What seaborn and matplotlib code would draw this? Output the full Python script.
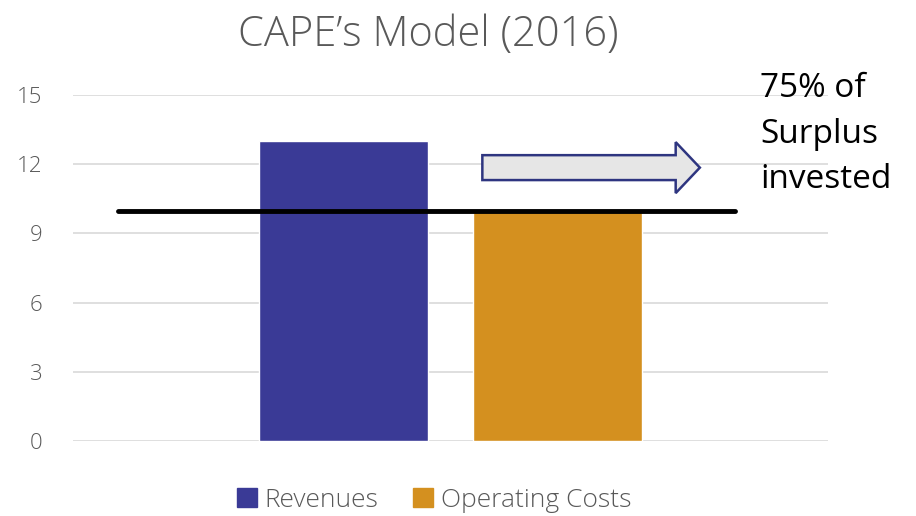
import numpy as np
import pandas as pd
import seaborn as sns
from matplotlib import pyplot as plt
from matplotlib.patches import FancyArrow

# data
series = ['Revenues', 'Operating Costs']
values = [13, 10]
group = ['2016', '2016']
yticks = [0, 3, 6, 9, 12, 15]
line_level = 9.95      # black reference line
arrow_level = 11.85    # "75% of surplus invested" arrow
note = '75% of\nSurplus\ninvested'

colors = ['#3a3a96', '#d4901f']
grey = '#595959'

sns.set_theme(style='white')
plt.rcParams['font.family'] = ['Open Sans', 'DejaVu Sans']

df = pd.DataFrame({'group': group, 'series': series, 'value': values})

fig = plt.figure(figsize=(9.16, 5.16), dpi=100)
ax = fig.add_axes([0.0797, 0.1453, 0.8245, 0.6707])

sns.barplot(data=df, x='group', y='value', hue='series', palette=colors,
            width=0.566, gap=0.21, ax=ax, legend=False, saturation=1)

ax.set_xlim(-0.5, 0.5)
ax.set_ylim(0, 15)
ax.set_yticks(yticks)
ax.set_yticklabels([str(t) for t in yticks], fontsize=16, color=grey, fontweight='light')
ax.tick_params(axis='y', length=0, pad=22)
ax.set_xticks([])
ax.set_xlabel('')
ax.set_ylabel('')
ax.yaxis.grid(True, color='#d9d9d9', lw=1.2)
ax.set_axisbelow(True)
for s in ax.spines.values():
    s.set_visible(False)

# black threshold line
ax.plot([-0.44, 0.377], [line_level, line_level], color='black', lw=3.5, clip_on=False, zorder=5)

# arrow
arr = FancyArrow(0.042, arrow_level, 0.288, 0, width=1.08, head_width=2.21,
                 head_length=0.032, length_includes_head=True,
                 facecolor='#e6e6e6', edgecolor='#2e3580', lw=1.8, zorder=6)
ax.add_patch(arr)

fig.text(0.468, 0.933, "CAPE\u2019s Model (2016)", ha='center', va='center',
         fontsize=30, color=grey, fontweight='light')

fig.text(0.830, 0.860, note, ha='left', va='top', fontsize=24, color='black',
         linespacing=1.5)

handles = [plt.Rectangle((0, 0), 1, 1, color=c) for c in colors]
leg = fig.legend(handles, series, loc='center', bbox_to_anchor=(0.474, 0.03),
                 ncol=2, frameon=False, fontsize=19, handlelength=0.75, handleheight=0.75,
                 handletextpad=0.3, columnspacing=1.3)
for t in leg.get_texts():
    t.set_color(grey)
    t.set_fontweight('light')

fig.savefig('out.png', dpi=100)
